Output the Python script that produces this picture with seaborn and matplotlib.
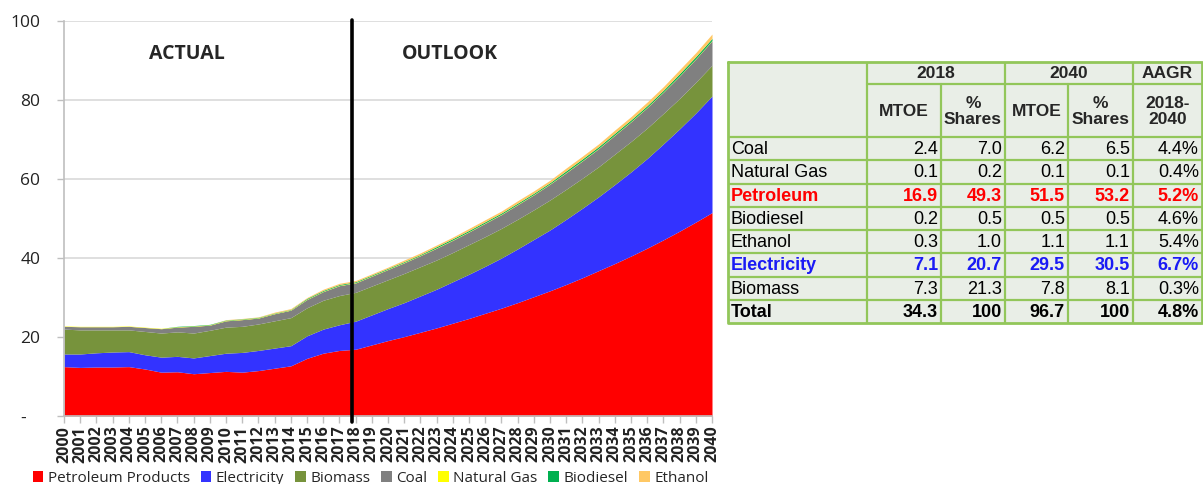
import numpy as np
import pandas as pd
import matplotlib
matplotlib.use("Agg")
import matplotlib.pyplot as plt
from matplotlib.patches import Rectangle
import seaborn as sns

# years on the category axis
years = list(range(2000, 2041))

# energy demand by source, MTOE (2000-2018 actual, 2019-2040 outlook)
petroleum = [12.5, 12.3, 12.4, 12.4, 12.5, 11.9, 11.1, 11.2, 10.7, 11.0, 11.3, 11.1, 11.5, 12.1, 12.7, 14.6, 15.9, 16.6, 16.9,
             18.0, 19.1, 20.1, 21.2, 22.3, 23.5, 24.7, 26.0, 27.3, 28.7, 30.2, 31.7, 33.3, 35.0, 36.8, 38.6, 40.5, 42.5,
             44.6, 46.8, 49.1, 51.5]
electricity = [3.2, 3.4, 3.6, 3.8, 3.8, 3.6, 3.8, 3.9, 4.0, 4.3, 4.6, 5.0, 5.1, 5.1, 5.1, 5.7, 6.1, 6.5, 7.1,
               7.6, 8.1, 8.6, 9.2, 9.8, 10.5, 11.2, 11.9, 12.7, 13.6, 14.5, 15.4, 16.5, 17.6, 18.7, 20.0, 21.3, 22.7,
               24.3, 25.9, 27.6, 29.5]
biomass = [6.3, 6.1, 5.8, 5.6, 5.5, 5.9, 6.1, 6.2, 6.3, 6.4, 6.6, 6.6, 6.7, 6.9, 7.1, 7.1, 7.3, 7.4, 7.3,
           7.3, 7.3, 7.4, 7.4, 7.4, 7.4, 7.5, 7.5, 7.5, 7.5, 7.5, 7.6, 7.6, 7.6, 7.6, 7.7, 7.7, 7.7,
           7.7, 7.7, 7.8, 7.8]
coal = [0.7, 0.8, 0.8, 0.8, 0.9, 1.0, 1.1, 1.2, 1.7, 1.3, 1.6, 1.7, 1.5, 1.8, 1.9, 2.1, 2.2, 2.5, 2.4,
        2.5, 2.6, 2.7, 2.8, 3.0, 3.1, 3.2, 3.4, 3.5, 3.7, 3.8, 4.0, 4.2, 4.4, 4.6, 4.8, 5.0, 5.2,
        5.4, 5.7, 5.9, 6.2]
natural_gas = [0.1, 0.1, 0.1, 0.1, 0.1, 0.1, 0.1, 0.1, 0.1, 0.1, 0.1, 0.1, 0.1, 0.1, 0.1, 0.1, 0.1, 0.1, 0.1,
               0.1, 0.1, 0.1, 0.1, 0.1, 0.1, 0.1, 0.1, 0.1, 0.1, 0.1, 0.1, 0.1, 0.1, 0.1, 0.1, 0.1, 0.1,
               0.1, 0.1, 0.1, 0.1]
biodiesel = [0.0, 0.0, 0.0, 0.0, 0.0, 0.0, 0.0, 0.1, 0.1, 0.1, 0.1, 0.1, 0.1, 0.1, 0.1, 0.2, 0.2, 0.2, 0.2,
             0.2, 0.2, 0.2, 0.2, 0.3, 0.3, 0.3, 0.3, 0.3, 0.3, 0.3, 0.3, 0.4, 0.4, 0.4, 0.4, 0.4, 0.4,
             0.4, 0.5, 0.5, 0.5]
ethanol = [0.0, 0.0, 0.0, 0.0, 0.0, 0.0, 0.0, 0.0, 0.0, 0.0, 0.1, 0.1, 0.1, 0.2, 0.2, 0.2, 0.3, 0.3, 0.3,
           0.3, 0.3, 0.4, 0.4, 0.4, 0.4, 0.5, 0.5, 0.5, 0.6, 0.6, 0.6, 0.7, 0.7, 0.7, 0.8, 0.8, 0.9,
           0.9, 1.0, 1.0, 1.1]

series_names = ["Petroleum Products", "Electricity", "Biomass", "Coal", "Natural Gas", "Biodiesel", "Ethanol"]
series_colors = ["#FF0000", "#3333FF", "#77933C", "#808080", "#FFFF00", "#00B050", "#FFC864"]

y_ticks = [0, 20, 40, 60, 80, 100]
y_tick_labels = ["-   ", "20", "40", "60", "80", "100"]

# summary table
table_rows = ["Coal", "Natural Gas", "Petroleum", "Biodiesel", "Ethanol", "Electricity", "Biomass", "Total"]
mtoe_2018 = ["2.4", "0.1", "16.9", "0.2", "0.3", "7.1", "7.3", "34.3"]
share_2018 = ["7.0", "0.2", "49.3", "0.5", "1.0", "20.7", "21.3", "100"]
mtoe_2040 = ["6.2", "0.1", "51.5", "0.5", "1.1", "29.5", "7.8", "96.7"]
share_2040 = ["6.5", "0.1", "53.2", "0.5", "1.1", "30.5", "8.1", "100"]
aagr = ["4.4%", "0.4%", "5.2%", "4.6%", "5.4%", "6.7%", "0.3%", "4.8%"]

df = pd.DataFrame({"year": years, "Petroleum Products": petroleum, "Electricity": electricity,
                   "Biomass": biomass, "Coal": coal, "Natural Gas": natural_gas,
                   "Biodiesel": biodiesel, "Ethanol": ethanol})

sns.set_theme(style="white")
plt.rcParams["font.family"] = ["Open Sans", "DejaVu Sans"]

W, H = 1203, 484
fig = plt.figure(figsize=(W / 100, H / 100), dpi=100)
ax = fig.add_axes([64 / W, 1 - 416 / H, (712 - 64) / W, (416 - 21) / H])

areas = ax.stackplot(df["year"], [df[n] for n in series_names], colors=series_colors,
                     labels=series_names, linewidth=0)

ax.set_xlim(2000, 2040)
ax.set_ylim(0, 100)
ax.set_yticks(y_ticks)
ax.set_yticklabels(y_tick_labels, fontsize=12.5)
ax.set_xticks(years)
ax.set_xticklabels([str(y) for y in years], rotation=90, fontsize=11.5, fontweight="bold")
ax.yaxis.grid(True, color="#D9D9D9", linewidth=1.2)
ax.xaxis.grid(False)
ax.set_axisbelow(True)
for s in ["top", "right"]:
    ax.spines[s].set_visible(False)
for s in ["left", "bottom"]:
    ax.spines[s].set_color("#BFBFBF")
    ax.spines[s].set_linewidth(1.2)
ax.tick_params(axis="x", bottom=True, length=5, width=1, color="#BFBFBF", pad=2, labelcolor="#222222")
ax.tick_params(axis="y", left=True, length=5, width=1, color="#BFBFBF", pad=12, labelcolor="#222222")

# actual / outlook divider
ax.plot([2017.8, 2017.8], [-1.5, 100.3], color="black", linewidth=2.6, clip_on=False, zorder=5)
ax.text(2007.6, 91.6, "ACTUAL", fontsize=14, fontweight="bold", ha="center", va="center")
ax.text(2023.8, 91.6, "OUTLOOK", fontsize=14, fontweight="bold", ha="center", va="center")

fig.legend(handles=areas, labels=series_names, loc="center", bbox_to_anchor=(0.308, 0.011),
           ncol=7, frameon=False, fontsize=11, handlelength=0.7, handleheight=0.7,
           handletextpad=0.3, columnspacing=0.7, borderaxespad=0, borderpad=0)

# table drawn in its own pixel-sized axes
tx0, tx1, ty0, ty1 = 728, 1202, 62, 323
tab = fig.add_axes([tx0 / W, 1 - ty1 / H, (tx1 - tx0) / W, (ty1 - ty0) / H])
tw, th = tx1 - tx0, ty1 - ty0
tab.set_xlim(0, tw)
tab.set_ylim(th, 0)
tab.axis("off")

col_edges = [0, 139, 213, 277, 340, 405, tw]
head1, head2 = 22, 75
row_h = (th - head2) / len(table_rows)
grid_c = "#92C65A"
tab.add_patch(Rectangle((0, 0), tw, th, facecolor="#E9EEE7", edgecolor="none"))

lw = 1.6
tab.plot([0, tw, tw, 0, 0], [0, 0, th, th, 0], color=grid_c, lw=2, clip_on=False)
for xe in [139, 277, 405]:
    tab.plot([xe, xe], [0, th], color=grid_c, lw=lw)
for xe in [213, 340]:
    tab.plot([xe, xe], [head1, th], color=grid_c, lw=lw)
tab.plot([139, tw], [head1, head1], color=grid_c, lw=lw)
for i in range(len(table_rows)):
    yy = head2 + i * row_h
    tab.plot([0, tw], [yy, yy], color=grid_c, lw=lw)

tfont = ["Liberation Sans", "DejaVu Sans"]
hfs, dfs = 12.5, 13
tab.text(208, head1 / 2 + 1, "2018", ha="center", va="center", fontsize=hfs, fontweight="bold", family=tfont)
tab.text(341, head1 / 2 + 1, "2040", ha="center", va="center", fontsize=hfs, fontweight="bold", family=tfont)
tab.text(439.5, head1 / 2 + 1, "AAGR", ha="center", va="center", fontsize=hfs, fontweight="bold", family=tfont)
sub_heads = ["MTOE", "%\nShares", "MTOE", "%\nShares", "2018-\n2040"]
for j, lab in enumerate(sub_heads):
    cx = (col_edges[j + 1] + col_edges[j + 2]) / 2
    tab.text(cx, (head1 + head2) / 2 + 1, lab, ha="center", va="center", fontsize=hfs,
             fontweight="bold", family=tfont, linespacing=1.1)

row_colors = {"Petroleum": "#FF0000", "Electricity": "#1A1AF5"}
for i, name in enumerate(table_rows):
    cy = head2 + (i + 0.5) * row_h + 1
    color = row_colors.get(name, "black")
    weight = "bold" if name in ("Petroleum", "Electricity", "Total") else "normal"
    tab.text(3, cy, name, ha="left", va="center", fontsize=dfs, color=color, fontweight=weight, family=tfont)
    vals = [mtoe_2018[i], share_2018[i], mtoe_2040[i], share_2040[i], aagr[i]]
    for j, v in enumerate(vals):
        tab.text(col_edges[j + 2] - 3, cy, v, ha="right", va="center", fontsize=dfs, color=color,
                 fontweight=weight, family=tfont)

fig.savefig("out.png", dpi=100)
